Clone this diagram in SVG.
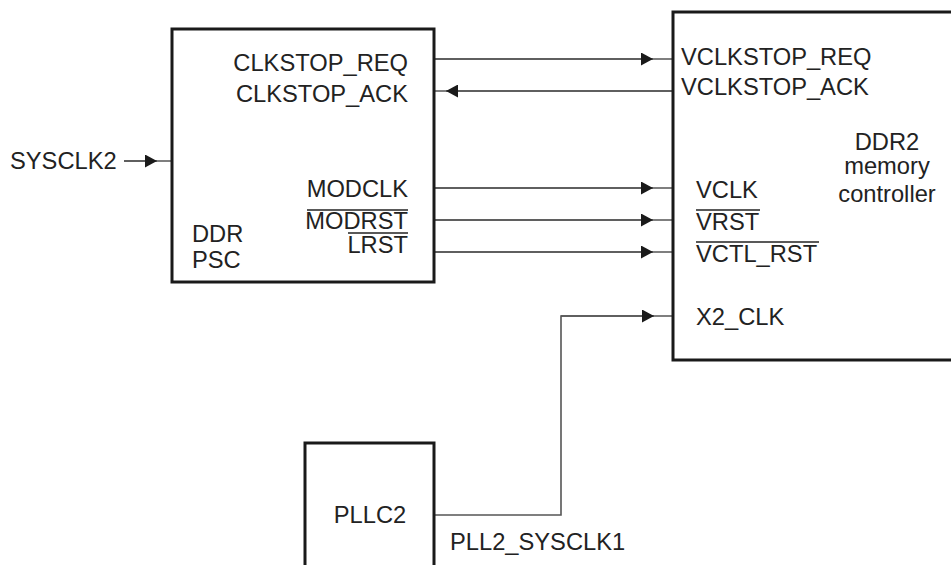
<svg xmlns="http://www.w3.org/2000/svg" width="951" height="565" viewBox="0 0 951 565">
<defs>
<marker id="ah" viewBox="0 0 12 13" refX="12" refY="6.5" markerWidth="12" markerHeight="13" markerUnits="userSpaceOnUse" orient="auto">
<path d="M0,0 L12,6.5 L0,13 Z" fill="#1a1a1a"/>
</marker>
<style>
.box{fill:#fff;stroke:#1a1a1a;stroke-width:3}
.ln{fill:none;stroke:#555;stroke-width:1.6}
text{font-family:"Liberation Sans",Arial,sans-serif;font-size:23.7px;fill:#222}
.r{text-anchor:end}
.c{text-anchor:middle}
.ov{stroke:#222;stroke-width:1.6}
</style>
</defs>
<g id="connectors">
<line class="ln" x1="434" y1="59" x2="672" y2="59"/>
<line class="ln" x1="434" y1="59" x2="653" y2="59" marker-end="url(#ah)"/>
<line class="ln" x1="672" y1="91" x2="434" y2="91"/>
<line class="ln" x1="672" y1="91" x2="446" y2="91" marker-end="url(#ah)"/>
<line class="ln" x1="434" y1="188" x2="672" y2="188"/>
<line class="ln" x1="434" y1="188" x2="653" y2="188" marker-end="url(#ah)"/>
<line class="ln" x1="434" y1="220" x2="672" y2="220"/>
<line class="ln" x1="434" y1="220" x2="653" y2="220" marker-end="url(#ah)"/>
<line class="ln" x1="434" y1="252" x2="672" y2="252"/>
<line class="ln" x1="434" y1="252" x2="653" y2="252" marker-end="url(#ah)"/>
<polyline class="ln" points="434,515 561,515 561,316 672,316"/>
<line class="ln" x1="561" y1="316" x2="654" y2="316" marker-end="url(#ah)"/>
<line class="ln" x1="124" y1="161" x2="172" y2="161"/>
<line class="ln" x1="124" y1="161" x2="157" y2="161" marker-end="url(#ah)"/>
<text x="10" y="169">SYSCLK2</text>
<text x="450" y="550">PLL2_SYSCLK1</text>
</g>
<g id="ddr-psc">
<rect class="box" x="172" y="29" width="262" height="253"/>
<text class="r" x="408" y="71">CLKSTOP_REQ</text>
<text class="r" x="408" y="102">CLKSTOP_ACK</text>
<text class="r" x="408" y="197">MODCLK</text>
<text class="r" x="408" y="229">MODRST</text>
<line class="ov" x1="307" y1="210" x2="408" y2="210"/>
<text class="r" x="408" y="253">LRST</text>
<line class="ov" x1="348" y1="233" x2="408" y2="233"/>
<text x="192" y="242">DDR</text>
<text x="192" y="268">PSC</text>
</g>
<g id="ddr2-controller">
<polyline class="box" points="953,12 673,12 673,360 953,360"/>
<text x="681" y="65">VCLKSTOP_REQ</text>
<text x="681" y="95">VCLKSTOP_ACK</text>
<text class="c" x="887" y="150">DDR2</text>
<text class="c" x="887" y="174">memory</text>
<text class="c" x="887" y="202">controller</text>
<text x="696" y="198">VCLK</text>
<text x="696" y="230">VRST</text>
<line class="ov" x1="696" y1="210" x2="760" y2="210"/>
<text x="696" y="262">VCTL_RST</text>
<line class="ov" x1="696" y1="242" x2="819" y2="242"/>
<text x="696" y="325">X2_CLK</text>
</g>
<g id="pllc2">
<polyline class="box" points="305,567 305,443 434,443 434,567"/>
<text class="c" x="370" y="523">PLLC2</text>
</g>
</svg>
